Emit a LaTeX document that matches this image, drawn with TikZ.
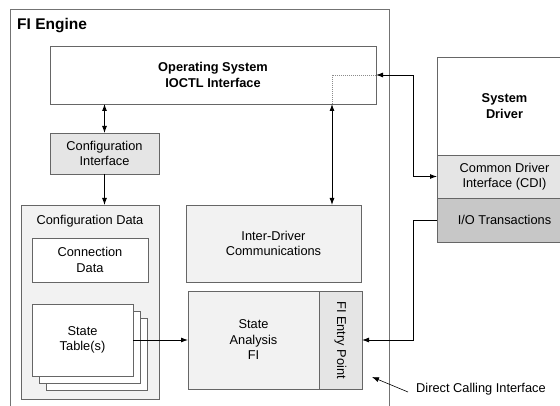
\documentclass[tikz,border=0pt]{standalone}
\usepackage{fontspec}
\setmainfont{Liberation Sans}
\usetikzlibrary{arrows.meta, positioning}

\begin{document}
\begin{tikzpicture}[
        x=1pt, y=-1pt,
        >={Latex[length=7pt,width=5pt]},
        every node/.style = {font=\fontsize{12.8}{15.5}\selectfont},
        btext/.style = {font=\fontsize{12.8}{15.5}\selectfont\bfseries},
        box/.style = {draw=black!60, fill=white, line width=0.9pt, align=center, inner sep=0pt, outer sep=0pt},
        lbox/.style = {box, fill=black!5},
        gbox/.style = {box, fill=black!10},
        dbox/.style = {box, fill=black!22},
        link/.style = {draw=black, line width=0.9pt}
    ]
\useasboundingbox (0,0) rectangle (560,406);
\clip (0,0) rectangle (560,406);

% FI engine frame
\node[box, draw=black!55, minimum width=379, minimum height=411] (engine) at (199.5,214.5) {};
\node[anchor=west, inner sep=0pt, font=\fontsize{15.5}{18}\selectfont\bfseries] (title) at (17,26) {FI Engine};

\node[box, btext, minimum width=326, minimum height=58] (os) at (213,75) {Operating System\\IOCTL Interface};
\node[gbox, minimum width=109, minimum height=41] (cfgif) at (104.5,153.5) {Configuration\\Interface};

% configuration data
\node[lbox, minimum width=138, minimum height=194] (cfgdata) at (90,302) {};
\node (cfgtitle) at (90,221) {Configuration Data};
\node[box, minimum width=116, minimum height=44] (conn) at (90,260) {Connection\\Data};
\node[box, minimum width=101, minimum height=72] (tab3) at (96.5,354) {};
\node[box, minimum width=101, minimum height=72] (tab2) at (89.5,347) {};
\node[box, minimum width=101, minimum height=72] (tab1) at (82.5,340) {State\\Table(s)};

\node[lbox, minimum width=175, minimum height=77] (idc) at (273.5,243.5) {Inter-Driver\\Communications};
\node[lbox, minimum width=131, minimum height=98] (sa) at (253.5,340) {State\\Analysis\\FI};
\node[gbox, minimum width=43, minimum height=98, right=0pt of sa,
      label={[rotate=-90]center:FI Entry Point}] (entry) {};

% system driver
\node[box, btext, minimum width=135, minimum height=98] (sysdrv) at (504.5,106) {System\\Driver};
\node[gbox, minimum width=135, minimum height=43, below=0pt of sysdrv] (cdi) {Common Driver\\Interface (CDI)};
\node[dbox, minimum width=135, minimum height=44, below=0pt of cdi] (io) {I/O Transactions};

\node[anchor=west, inner sep=0pt] (dci) at (416,389) {Direct Calling Interface};

\coordinate (osj) at (332,75);
\coordinate (bus) at (413,75);
\coordinate (dcitip) at (372,377);

\draw[link, <->] (cfgif.north |- os.south) -- (cfgif.north);
\draw[link, ->] (cfgif.south) -- (cfgif.south |- cfgdata.north);
\draw[link, ->] (tab1.east) -- (sa.west);
\draw[black!45, line width=0.9pt, dash pattern=on 1pt off 1pt] (os.east) -- (osj) -- (osj |- os.south);
\draw[link, <->] (osj |- os.south) -- (osj |- idc.north);
\draw[link, <->] (os.east) -- (bus) |- (cdi.west);
\draw[link, ->] (io.west) -- (io.west -| bus) |- (entry.east);
\draw[link, ->, line width=0.6pt] ([xshift=-8pt, yshift=-3pt]dci.west) -- (dcitip);
\end{tikzpicture}
\end{document}
